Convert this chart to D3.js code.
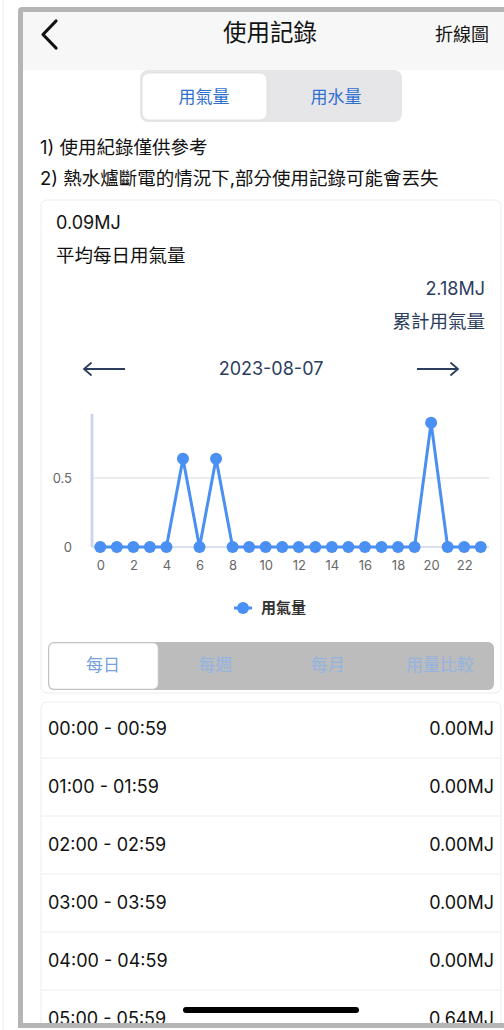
<!DOCTYPE html>
<html>
<head>
<meta charset="utf-8">
<script src="https://cdn.jsdelivr.net/npm/d3@7"></script>
<style>
  html, body { margin: 0; padding: 0; background: #fff; }
  svg { display: block; font-family: Inter, "Noto Sans CJK TC", sans-serif; }
</style>
</head>
<body>
<script>
// chart data
const hours = d3.range(0, 24);
const gasUsage = [0, 0, 0, 0, 0, 0.64, 0, 0.64, 0, 0, 0, 0, 0, 0, 0, 0, 0, 0, 0, 0, 0.90, 0, 0, 0];
const yTicks = [0, 0.5];
const xTickLabels = d3.range(0, 24, 2);

// texts
const pageTitle = "使用記錄";
const chartTypeLabel = "折線圖";
const topTabs = ["用氣量", "用水量"];
const notes = ["1) 使用紀錄僅供參考", "2) 熱水爐斷電的情況下,部分使用記錄可能會丟失"];
const avgLabel = ["0.09MJ", "平均每日用氣量"];
const totalLabel = ["2.18MJ", "累計用氣量"];
const currentDate = "2023-08-07";
const seriesName = "用氣量";
const periodTabs = ["每日", "每週", "每月", "用量比較"];

const W = 504, H = 1030;
const blue = "#4a8ff2", navy = "#2c3d5e";

const svg = d3.select("body").append("svg")
    .attr("width", W)
    .attr("height", H);

svg.append("defs").append("clipPath").attr("id", "frame")
    .append("rect").attr("x", 23).attr("y", 12).attr("width", W - 23).attr("height", 1011);

// outer frame
svg.append("line")
    .attr("x1", 3).attr("x2", 3).attr("y1", 0).attr("y2", H)
    .style("stroke", "#ececec").style("stroke-width", 1);
svg.append("path")
    .attr("d", "M" + W + ",9.5 H22 Q20.5,9.5 20.5,11 V1025.5 H" + W)
    .style("fill", "none").style("stroke", "#b5b5b5").style("stroke-width", 5);

const g = svg.append("g").attr("clip-path", "url(#frame)");

// header
g.append("rect").attr("x", 23).attr("y", 12).attr("width", W).attr("height", 58).style("fill", "#f7f7f7");
g.append("path")
    .attr("d", "M56,21 L43,34.5 L56,48")
    .style("fill", "none").style("stroke", "#111").style("stroke-width", 3.2)
    .style("stroke-linecap", "round").style("stroke-linejoin", "round");
g.append("text").attr("x", 270).attr("y", 33).attr("dy", ".35em")
    .style("text-anchor", "middle").style("font-size", "23.5px").style("fill", "#111")
    .text(pageTitle);
g.append("text").attr("x", 489).attr("y", 35).attr("dy", ".35em")
    .style("text-anchor", "end").style("font-size", "18px").style("fill", "#111")
    .text(chartTypeLabel);

// top segmented control
g.append("rect").attr("x", 140).attr("y", 70).attr("width", 262).attr("height", 52).attr("rx", 8)
    .style("fill", "#e6e6e9");
g.append("rect").attr("x", 142).attr("y", 73).attr("width", 125).attr("height", 47).attr("rx", 7)
    .style("fill", "#fff").style("stroke", "#dcdcdc").style("stroke-width", 0.8);
g.selectAll(".toptab").data(topTabs).enter().append("text")
    .attr("class", "toptab")
    .attr("x", (d, i) => i === 0 ? 204 : 336).attr("y", 97).attr("dy", ".35em")
    .style("text-anchor", "middle").style("font-size", "17px").style("fill", "#2f6fd0")
    .text(d => d);

// notes
g.selectAll(".note").data(notes).enter().append("text")
    .attr("class", "note")
    .attr("x", 40).attr("y", (d, i) => 148 + i * 31).attr("dy", ".35em")
    .style("font-size", "18.5px").style("fill", "#111")
    .text(d => d);

// summary card
g.append("rect").attr("x", 41).attr("y", 200).attr("width", 460).attr("height", 493).attr("rx", 6)
    .style("fill", "#fff").style("stroke", "#ececec").style("stroke-width", 1);
g.append("text").attr("x", 56).attr("y", 223).attr("dy", ".35em")
    .style("font-size", "18px").style("fill", "#111").text(avgLabel[0]);
g.append("text").attr("x", 56).attr("y", 256).attr("dy", ".35em")
    .style("font-size", "18.5px").style("fill", "#111").text(avgLabel[1]);
g.append("text").attr("x", 485).attr("y", 289).attr("dy", ".35em")
    .style("text-anchor", "end").style("font-size", "18px").style("fill", navy).text(totalLabel[0]);
g.append("text").attr("x", 485).attr("y", 322).attr("dy", ".35em")
    .style("text-anchor", "end").style("font-size", "18.5px").style("fill", navy).text(totalLabel[1]);

// date navigation
const arrow = (x1, x2, dir) => {
    g.append("line").attr("x1", x1).attr("x2", x2).attr("y1", 369).attr("y2", 369)
        .style("stroke", navy).style("stroke-width", 1.8);
    const tip = dir < 0 ? x1 : x2;
    g.append("path")
        .attr("d", "M" + (tip - dir * 7) + ",363 L" + tip + ",369 L" + (tip - dir * 7) + ",375")
        .style("fill", "none").style("stroke", navy).style("stroke-width", 1.8)
        .style("stroke-linecap", "round");
};
arrow(84, 125, -1);
arrow(417, 458, 1);
g.append("text").attr("x", 271).attr("y", 369).attr("dy", ".35em")
    .style("text-anchor", "middle").style("font-size", "18px").style("fill", navy)
    .text(currentDate);

// line chart
const x = d3.scaleBand().domain(hours).range([92, 489]);
const y = d3.scaleLinear().domain([0, 0.964]).range([547, 414]);
const cx = d => x(d) + x.bandwidth() / 2;

const chart = g.append("g");
chart.selectAll(".grid").data(yTicks).enter().append("line")
    .attr("class", "grid")
    .attr("x1", 92).attr("x2", 489)
    .attr("y1", d => y(d)).attr("y2", d => y(d))
    .style("stroke", d => d === 0 ? "#ccd6eb" : "#e6e6e6").style("stroke-width", 1.5);
chart.append("line")
    .attr("x1", 92).attr("x2", 92).attr("y1", y.range()[1]).attr("y2", y.range()[0])
    .style("stroke", "#ccd6eb").style("stroke-width", 3);

const yAxis = d3.axisLeft(y).tickValues(yTicks).tickSize(0).tickPadding(20)
    .tickFormat(d => d === 0 ? "0" : d3.format(".1f")(d));
chart.append("g").attr("transform", "translate(92,0)").call(yAxis)
    .call(a => a.select(".domain").remove())
    .selectAll("text").style("font-size", "13px").style("fill", "#666")
    .style("font-family", "Inter, sans-serif");

const xAxis = d3.axisBottom(d3.scaleLinear().domain([0, 23]).range([cx(0), cx(23)]))
    .tickValues(xTickLabels).tickSize(0).tickPadding(14).tickFormat(d3.format("d"));
chart.append("g").attr("transform", "translate(0,547)").call(xAxis)
    .call(a => a.select(".domain").remove())
    .selectAll("text").style("font-size", "13px").style("fill", "#666")
    .style("font-family", "Inter, sans-serif");

const line = d3.line().x((d, i) => cx(hours[i])).y(d => y(d));
chart.append("path").datum(gasUsage)
    .attr("d", line)
    .style("fill", "none").style("stroke", blue).style("stroke-width", 3)
    .style("stroke-linejoin", "round");
chart.selectAll(".dot").data(gasUsage).enter().append("circle")
    .attr("class", "dot")
    .attr("cx", (d, i) => cx(hours[i])).attr("cy", d => y(d)).attr("r", 6)
    .style("fill", blue);

// legend
const legend = chart.append("g").attr("transform", "translate(243,608)");
legend.append("line").attr("x1", -9).attr("x2", 9).style("stroke", blue).style("stroke-width", 3);
legend.append("circle").attr("r", 6).style("fill", blue);
legend.append("text").attr("x", 18).attr("dy", ".35em")
    .style("font-size", "15px").style("font-weight", "bold").style("fill", "#333")
    .text(seriesName);

// period tabs
g.append("rect").attr("x", 48).attr("y", 642).attr("width", 446).attr("height", 48).attr("rx", 6)
    .style("fill", "#bcbcbc");
g.append("rect").attr("x", 49).attr("y", 643).attr("width", 109).attr("height", 46).attr("rx", 5)
    .style("fill", "#fff").style("stroke", "#d0d0d0").style("stroke-width", 0.6);
const tabX = d3.scalePoint().domain(periodTabs).range([103, 440]);
g.selectAll(".ptab").data(periodTabs).enter().append("text")
    .attr("class", "ptab")
    .attr("x", d => tabX(d)).attr("y", 665).attr("dy", ".35em")
    .style("text-anchor", "middle").style("font-size", "17px")
    .style("fill", (d, i) => i === 0 ? "#77a0dd" : "#94b3e0")
    .text(d => d);

// hourly list
const rowH = 58;
g.append("rect").attr("x", 41).attr("y", 702).attr("width", 460).attr("height", 400).attr("rx", 6)
    .style("fill", "#fff").style("stroke", "#ececec").style("stroke-width", 1);
const pad = n => String(n).padStart(2, "0");
const rows = g.selectAll(".row").data(hours.slice(0, 6)).enter().append("g")
    .attr("class", "row")
    .attr("transform", d => "translate(0," + (729 + d * rowH) + ")");
rows.append("text").attr("x", 48).attr("dy", ".35em")
    .style("font-size", "18px").style("fill", "#111")
    .text(d => pad(d) + ":00 - " + pad(d) + ":59");
rows.append("text").attr("x", 494).attr("dy", ".35em")
    .style("text-anchor", "end").style("font-size", "18px").style("fill", "#111")
    .text(d => gasUsage[d].toFixed(2) + "MJ");
rows.filter(d => d < 5).append("line")
    .attr("x1", 41).attr("x2", 501).attr("y1", 29).attr("y2", 29)
    .style("stroke", "#ececec").style("stroke-width", 1);

// home indicator
g.append("rect").attr("x", 183).attr("y", 1007).attr("width", 176).attr("height", 6).attr("rx", 3)
    .style("fill", "#000");
</script>
</body>
</html>
